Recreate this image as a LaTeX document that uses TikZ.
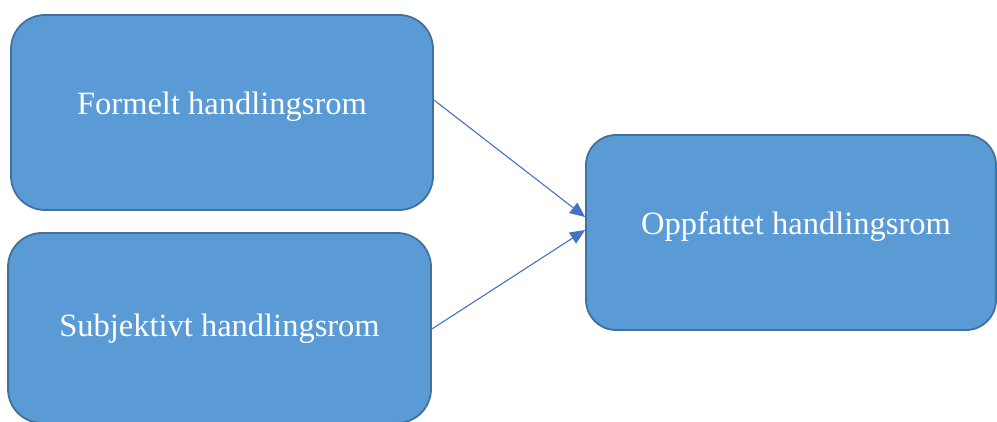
\documentclass[tikz,border=0pt]{standalone}
\usepackage{fontspec}
\setmainfont{Liberation Serif}
\usetikzlibrary{arrows.meta}
\definecolor{boxfill}{HTML}{5B9BD5}
\definecolor{boxline}{HTML}{41719C}
\definecolor{arrowcol}{HTML}{4472C4}
\tikzset{
  roombox/.style={draw=boxline, fill=boxfill, line width=1.8pt, rounded corners=34pt,
    inner sep=0pt},
  roomtext/.style={text=white, font=\fontsize{32.5}{39}\selectfont, inner sep=0pt},
  conn/.style={draw=arrowcol, line width=1.1pt, -{Triangle[length=15pt,width=13pt]}}
}
\begin{document}
\begin{tikzpicture}[x=1pt,y=1pt]
\useasboundingbox (0,0) rectangle (997,421);
\node[roombox, minimum width=422pt, minimum height=195pt] (b1) at (222,308.5) {};
\node[roombox, minimum width=423pt, minimum height=190pt] (b2) at (219.5,93) {};
\node[roombox, minimum width=410pt, minimum height=195pt, rounded corners=30pt] (b3) at (791,188.5) {};
\node[roomtext] (t1) at ([yshift=6pt]b1.center) {Formelt handlingsrom};
\node[roomtext] (t2) at ([yshift=-1pt]b2.center) {Subjektivt handlingsrom};
\node[roomtext] (t3) at ([xshift=5pt,yshift=6pt]b3.center) {Oppfattet handlingsrom};
\draw[conn] ([yshift=12.5pt]b1.east) -- ([yshift=15.5pt]b3.west);
\draw[conn] ([yshift=-1pt]b2.east) -- ([yshift=2.5pt]b3.west);
\end{tikzpicture}
\end{document}
